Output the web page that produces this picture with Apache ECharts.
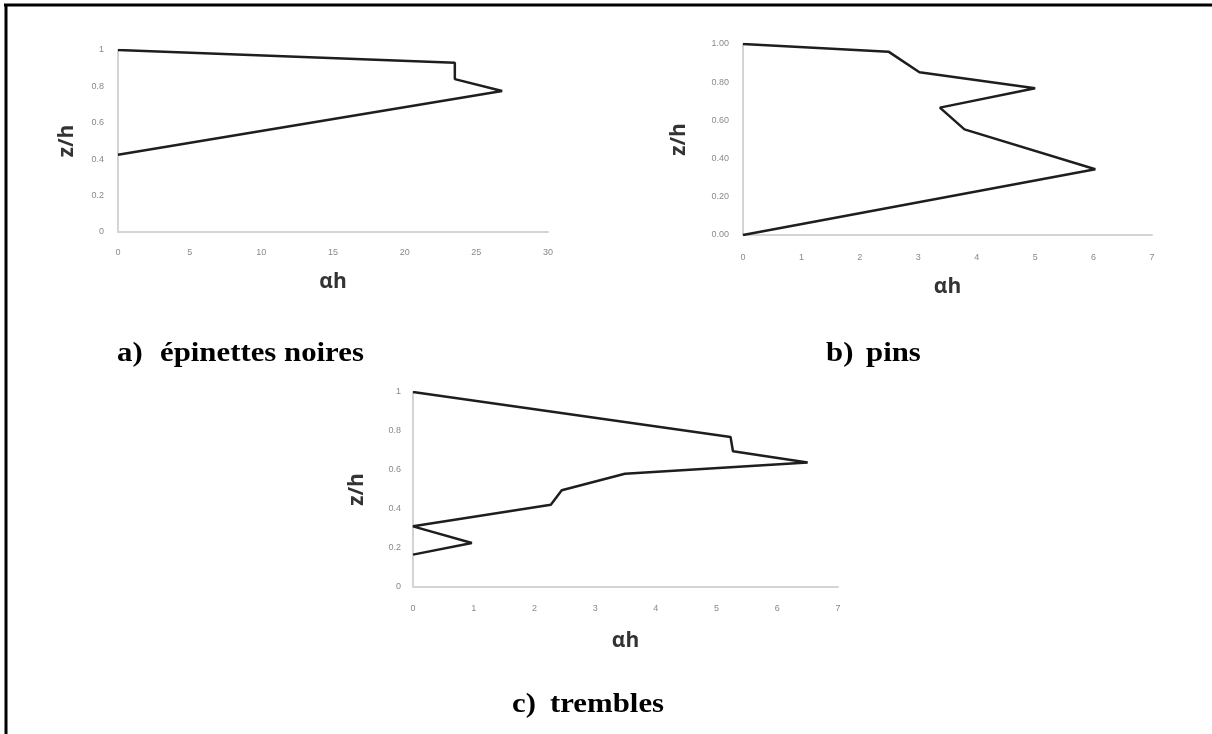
<!DOCTYPE html>
<html>
<head>
<meta charset="utf-8">
<script src="https://cdn.jsdelivr.net/npm/echarts@6/dist/echarts.min.js"></script>
<style>
html,body{margin:0;padding:0;background:#fff;}
#main{width:1212px;height:734px;}
</style>
</head>
<body>
<div id="main"></div>
<script>
// a) épinettes noires : [αh, z/h]
var dataA = [[0, 1.0], [23.5, 0.93], [23.5, 0.84], [26.8, 0.775], [0, 0.424]];
// b) pins
var dataB = [[0, 1.0], [2.49, 0.96], [3.02, 0.852], [5.0, 0.768], [3.37, 0.667], [3.79, 0.553], [6.03, 0.344], [0, 0.0]];
// c) trembles
var dataC = [[0, 1.0], [5.23, 0.769], [5.27, 0.696], [6.5, 0.638], [3.49, 0.581], [2.45, 0.496], [2.27, 0.422], [0, 0.311], [0.97, 0.226], [0, 0.166]];

var captionLetters = ['a)', 'b)', 'c)'];
var captionNames = ['épinettes noires', 'pins', 'trembles'];
var xName = 'αh';
var yName = 'z/h';
var xRanges = [[0, 30, 5], [0, 7, 1], [0, 7, 1]];
var yRange = [0, 1, 0.2];

var chart = echarts.init(document.getElementById('main'), null, {renderer: 'canvas'});

var grids = [
  {left: 118, top: 50, width: 430, height: 182},
  {left: 743, top: 44, width: 409, height: 191},
  {left: 413, top: 392, width: 425, height: 195}
];
var xGaps = [40, 42, 44];
var yGaps = [40, 53, 45];
var xLabelMargins = [16, 18, 17];
var yLabelMargins = [14, 14, 12];

var labelStyle = {color: '#8a8a8a', fontSize: 9, fontFamily: 'Liberation Sans'};
var nameStyle = {color: '#333333', fontSize: 21, fontWeight: 'bold', fontFamily: 'Open Sans'};

var xAxes = [], yAxes = [], series = [];
var datas = [dataA, dataB, dataC];
for (var i = 0; i < 3; i++) {
  xAxes.push({
    type: 'value', gridIndex: i,
    min: xRanges[i][0], max: xRanges[i][1], interval: xRanges[i][2],
    name: xName, nameLocation: 'middle', nameGap: xGaps[i], nameTextStyle: nameStyle,
    axisLine: {show: true, lineStyle: {color: '#d4d4d4', width: 2}},
    axisTick: {show: false},
    splitLine: {show: false},
    axisLabel: Object.assign({margin: xLabelMargins[i]}, labelStyle)
  });
  yAxes.push({
    type: 'value', gridIndex: i,
    min: yRange[0], max: yRange[1], interval: yRange[2],
    name: yName, nameLocation: 'middle', nameGap: yGaps[i], nameRotate: 90, nameTextStyle: nameStyle,
    axisLine: {show: true, lineStyle: {color: '#d4d4d4', width: 2}},
    axisTick: {show: false},
    splitLine: {show: false},
    axisLabel: Object.assign({
      margin: yLabelMargins[i],
      formatter: (function (idx) {
        return function (v) {
          if (idx === 1) return v.toFixed(2);
          return String(Math.round(v * 10) / 10);
        };
      })(i)
    }, labelStyle)
  });
  series.push({
    type: 'line', xAxisIndex: i, yAxisIndex: i,
    data: datas[i], symbol: 'none', smooth: false,
    lineStyle: {color: '#1e1e1e', width: 2.5},
    animation: false
  });
}

function capText(txt, x, y) {
  return {
    type: 'text', x: x, y: y, scaleX: 1.1, scaleY: 1,
    style: {
      text: txt, fontFamily: 'Liberation Serif', fontWeight: 'bold', fontSize: 28,
      fill: '#000', textVerticalAlign: 'middle', verticalAlign: 'middle', textAlign: 'left', align: 'left'
    }
  };
}

chart.setOption({
  backgroundColor: '#ffffff',
  animation: false,
  grid: grids,
  xAxis: xAxes,
  yAxis: yAxes,
  series: series,
  graphic: [
    {type: 'line', shape: {x1: 4, y1: 5, x2: 1212, y2: 5}, style: {stroke: '#000', lineWidth: 3}},
    {type: 'line', shape: {x1: 6, y1: 4, x2: 6, y2: 734}, style: {stroke: '#000', lineWidth: 3}},
    capText(captionLetters[0], 117, 354),
    capText(captionNames[0], 160, 354),
    capText(captionLetters[1], 826, 354),
    capText(captionNames[1], 866, 354),
    capText(captionLetters[2], 512, 705),
    capText(captionNames[2], 550, 705)
  ]
});
</script>
</body>
</html>
